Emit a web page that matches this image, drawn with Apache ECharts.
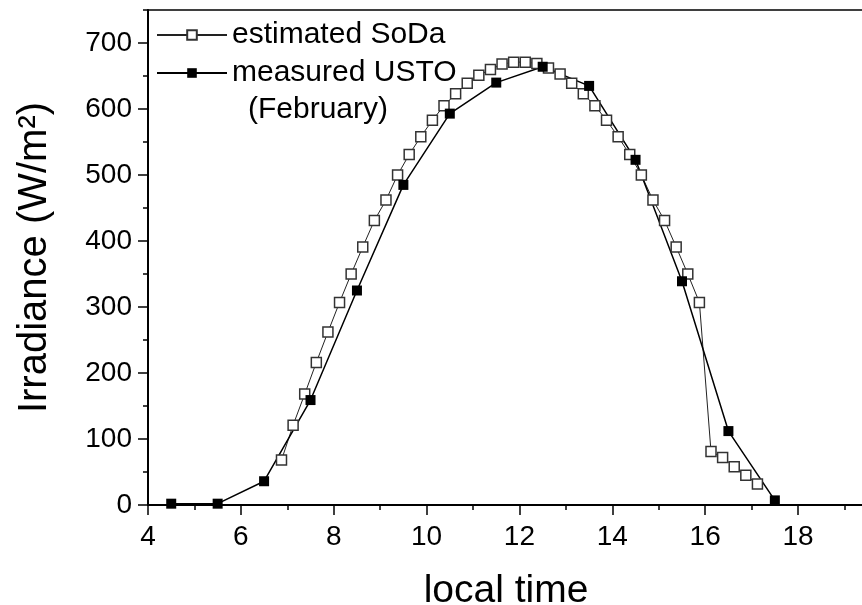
<!DOCTYPE html>
<html>
<head>
<meta charset="utf-8">
<script src="https://cdn.jsdelivr.net/npm/echarts@6/dist/echarts.min.js"></script>
<style>
html,body{margin:0;padding:0;background:#fff;}
#chart{width:862px;height:605px;}
</style>
</head>
<body>
<div id="chart"></div>
<script>
// Estimated SoDa (open squares)
var sodaTime = [6.875,7.125,7.375,7.625,7.875,8.125,8.375,8.625,8.875,9.125,9.375,9.625,9.875,10.125,10.375,10.625,10.875,11.125,11.375,11.625,11.875,12.125,12.375,12.625,12.875,13.125,13.375,13.625,13.875,14.125,14.375,14.625,14.875,15.125,15.375,15.625,15.875,16.125,16.375,16.625,16.875,17.125];
var sodaValues = [68,121,168,216,262,307,350,391,431,462,500,531,558,583,605,623,639,651,660,668,671,671,669,662,653,639,623,605,583,558,531,500,462,431,391,350,307,81,72,58,45,32];
// Measured USTO (filled squares)
var ustoTime = [4.5,5.5,6.5,7.5,8.5,9.5,10.5,11.5,12.5,13.5,14.5,15.5,16.5,17.5];
var ustoValues = [2,2,36,159,325,485,593,640,664,635,523,339,112,7];

var xTickLabels = [4,6,8,10,12,14,16,18];
var yTickLabels = [0,100,200,300,400,500,600,700];

var seriesNames = ['estimated SoDa','measured USTO'];
var noteText = '(February)';
var xTitle = 'local time';
var yTitle = 'Irradiance (W/m\u00B2)';

function pairs(xs, ys){ return xs.map(function(x,i){ return [x, ys[i]]; }); }

var FONT = '"Liberation Sans", Arial, sans-serif';
var chart = echarts.init(document.getElementById('chart'), null, {renderer:'canvas'});
var option = {
  animation:false,
  backgroundColor:'#fff',
  grid:[
    {left:148, right:-2, top:10, bottom:100, outerBoundsMode:'none', containLabel:false},
    {left:148, right:64, top:43, bottom:100, outerBoundsMode:'none', containLabel:false}
  ],
  xAxis:[
    {type:'value', gridIndex:0, min:4, max:19.42, interval:1, position:'bottom',
     name:xTitle, nameLocation:'middle', nameGap:67,
     nameTextStyle:{fontFamily:FONT, fontSize:39, color:'#000'},
     axisLine:{show:true, lineStyle:{color:'#000', width:2}},
     axisTick:{show:true, length:5, lineStyle:{color:'#000', width:1.5}},
     axisLabel:{show:false}, splitLine:{show:false}},
    {type:'value', gridIndex:0, min:4, max:19.42, position:'top',
     axisLine:{show:true, onZero:false, lineStyle:{color:'#000', width:1.5}},
     axisTick:{show:false}, axisLabel:{show:false}, splitLine:{show:false}},
    {type:'value', gridIndex:1, min:xTickLabels[0], max:xTickLabels[xTickLabels.length-1], interval:2, position:'bottom',
     axisLine:{show:false},
     axisTick:{show:true, length:10, lineStyle:{color:'#000', width:1.5}},
     axisLabel:{show:true, margin:18, fontFamily:FONT, fontSize:28, color:'#000'},
     splitLine:{show:false}}
  ],
  yAxis:[
    {type:'value', gridIndex:0, min:0, max:750, interval:50,
     name:yTitle, nameLocation:'middle', nameGap:93, nameRotate:90,
     nameTextStyle:{fontFamily:FONT, fontSize:40, color:'#000'},
     axisLine:{show:true, lineStyle:{color:'#000', width:2}},
     axisTick:{show:true, length:5, lineStyle:{color:'#000', width:1.5}},
     axisLabel:{show:false}, splitLine:{show:false}},
    {type:'value', gridIndex:1, min:yTickLabels[0], max:yTickLabels[yTickLabels.length-1], interval:100,
     axisLine:{show:false},
     axisTick:{show:true, length:10, lineStyle:{color:'#000', width:1.5}},
     axisLabel:{show:true, margin:16, fontFamily:FONT, fontSize:28, color:'#000'},
     splitLine:{show:false}}
  ],
  legend:{
    orient:'vertical', left:151, top:15, itemWidth:70, itemHeight:12, itemGap:8,
    textStyle:{fontFamily:FONT, fontSize:30, color:'#000'},
    data:seriesNames
  },
  graphic:[
    {type:'text', left:248, top:95, style:{text:noteText, font:'30px ' + FONT, fill:'#000'}}
  ],
  series:[
    {name:seriesNames[0], type:'line', xAxisIndex:0, yAxisIndex:0,
     data:pairs(sodaTime, sodaValues), showAllSymbol:true,
     symbol:'rect', symbolSize:10,
     itemStyle:{color:'#fff', borderColor:'#333', borderWidth:1.5},
     lineStyle:{color:'#222', width:1}},
    {name:seriesNames[1], type:'line', xAxisIndex:0, yAxisIndex:0,
     data:pairs(ustoTime, ustoValues), showAllSymbol:true,
     symbol:'rect', symbolSize:10,
     itemStyle:{color:'#000', borderColor:'#000', borderWidth:0},
     lineStyle:{color:'#000', width:1.5}}
  ]
};
chart.setOption(option);
</script>
</body>
</html>
